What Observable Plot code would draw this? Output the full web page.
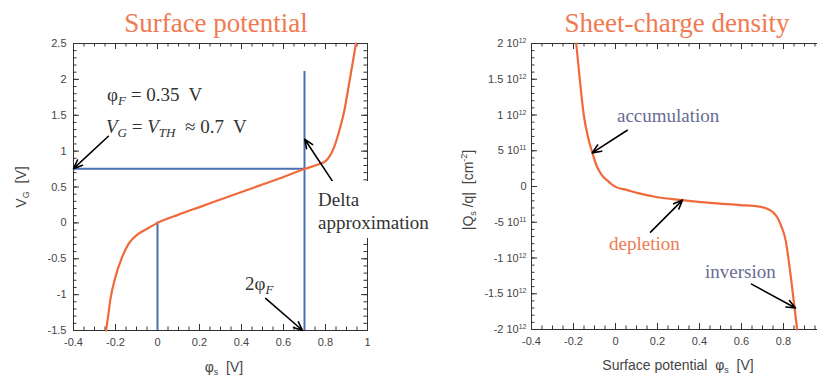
<!DOCTYPE html>
<html><head><meta charset="utf-8">
<script src="https://cdn.jsdelivr.net/npm/d3@7"></script>
<script src="https://cdn.jsdelivr.net/npm/@observablehq/plot@0.6"></script>
<style>
html,body{margin:0;padding:0;background:#fff;}
body{width:817px;height:379px;overflow:hidden;position:relative;font-family:"Liberation Sans",Arial,sans-serif;}
.abs{position:absolute;top:0;}
#overlay{position:absolute;left:0;top:0;z-index:5;pointer-events:none;}
#overlay text{white-space:pre;}
.serif{font-family:"Liberation Serif","Times New Roman",serif;}
</style></head><body>
<div id="left" class="abs" style="left:0;width:440px;height:379px"></div>
<div id="right" class="abs" style="left:440px;width:400px;height:379px"></div>
<svg id="overlay" width="817" height="379" xmlns="http://www.w3.org/2000/svg">
  <text class="serif" x="216" y="32" text-anchor="middle" font-size="27" fill="#f07a52">Surface potential</text>
  <text class="serif" x="677" y="32" text-anchor="middle" font-size="27" fill="#f07a52">Sheet-charge density</text>
  <text class="serif" x="107" y="101" font-size="19" fill="#333">φ<tspan font-style="italic" font-size="13" dy="4">F</tspan><tspan dy="-4"> = 0.35  V</tspan></text>
  <text class="serif" x="106" y="133" font-size="19" fill="#333"><tspan font-style="italic">V</tspan><tspan font-style="italic" font-size="13" dy="4">G</tspan><tspan dy="-4"> = </tspan><tspan font-style="italic">V</tspan><tspan font-style="italic" font-size="13" dy="4">TH</tspan><tspan dy="-4">  ≈ 0.7  V</tspan></text>
  <rect x="311" y="181" width="125" height="57" fill="#fff"/>
  <text class="serif" x="318" y="206" font-size="19" fill="#333">Delta</text>
  <text class="serif" x="318" y="229" font-size="19" fill="#333">approximation</text>
  <text class="serif" x="245" y="290" font-size="19" fill="#333">2φ<tspan font-style="italic" font-size="13" dy="4">F</tspan></text>
  <text class="serif" x="617" y="122" font-size="19" fill="#676b92">accumulation</text>
  <text class="serif" x="609" y="250" font-size="19" fill="#f07a52">depletion</text>
  <text class="serif" x="705" y="278" font-size="19" fill="#676b92">inversion</text>
  <text transform="translate(26,187) rotate(-90)" text-anchor="middle" font-size="14" fill="#444">V<tspan font-size="9" dy="3">G</tspan><tspan dy="-3">  [V]</tspan></text>
  <text x="224" y="372" text-anchor="middle" font-size="14" fill="#444">φ<tspan font-size="9" dy="3">s</tspan><tspan dy="-3">  [V]</tspan></text>
  <text transform="translate(473,190) rotate(-90)" text-anchor="middle" font-size="14" fill="#444">|Q<tspan font-size="9" dy="3">s</tspan><tspan dy="-3"> /q|  [cm</tspan><tspan font-size="9" dy="-6">-2</tspan><tspan dy="6">]</tspan></text>
  <text x="678" y="370" text-anchor="middle" font-size="14" fill="#444">Surface potential  φ<tspan font-size="9" dy="3">s</tspan><tspan dy="-3">  [V]</tspan></text>
</svg>
<script>
// ---- Left panel data: gate voltage vs surface potential ----
const phiS = [-0.245, -0.235, -0.225, -0.201, -0.169, -0.137, -0.09, -0.045, 0, 0.1, 0.2, 0.3, 0.4, 0.5, 0.6, 0.7, 0.76, 0.8, 0.84, 0.87, 0.89, 0.91, 0.93, 0.945];
const vG   = [-1.5, -1.3, -1.08, -0.76, -0.48, -0.29, -0.15, -0.075, 0, 0.115, 0.22, 0.325, 0.43, 0.535, 0.64, 0.75, 0.81, 0.86, 1.05, 1.33, 1.57, 1.9, 2.24, 2.5];
// guide lines (blue)
const guideX  = [0, 0.7];
const guideY1 = [-1.5, -1.5];
const guideY2 = [0.01, 2.11];
const guideHY = [0.755];
const guideHX1 = [-0.4];
const guideHX2 = [0.7];
// left arrows
const lArrX1 = [-0.234, 0.84, 0.515];
const lArrY1 = [1.207, 0.551, -1.053];
const lArrX2 = [-0.4, 0.701, 0.691];
const lArrY2 = [0.755, 1.165, -1.5];

// ---- Right panel data: sheet charge vs surface potential ----
const phiQ = [-0.187, -0.17, -0.151, -0.13, -0.111, -0.09, -0.08, -0.06, -0.04, -0.02, 0, 0.056, 0.103, 0.2, 0.317, 0.45, 0.595, 0.68, 0.722, 0.75, 0.77, 0.79, 0.81, 0.833, 0.852, 0.865];
const qs   = [2.0e12, 1.5e12, 1.0e12, 0.68e12, 0.48e12, 0.29e12, 0.23e12, 0.14e12, 0.088e12, 0.035e12, -0.005e12, -0.05e12, -0.09e12, -0.15e12, -0.19e12, -0.23e12, -0.26e12, -0.28e12, -0.31e12, -0.36e12, -0.43e12, -0.56e12, -0.75e12, -1.22e12, -1.68e12, -2.0e12];
const rArrX1 = [0.056, 0.167, 0.648];
const rArrY1 = [0.787e12, -0.639e12, -1.366e12];
const rArrX2 = [-0.111, 0.319, 0.857];
const rArrY2 = [0.47e12, -0.19e12, -1.70e12];

// ---- ticks ----
const xMajor = [-0.4, -0.2, 0, 0.2, 0.4, 0.6, 0.8, 1.0];
const rxLabelTicks = [-0.4, -0.2, 0, 0.2, 0.4, 0.6, 0.8];
const xMinor = d3.range(-0.4, 1.0001, 0.05).map(v => +v.toFixed(3));
const lyMajor = [-1.5, -1, -0.5, 0, 0.5, 1, 1.5, 2, 2.5];
const lyMinor = d3.range(-1.5, 2.5001, 0.1).map(v => +v.toFixed(3));
const ryMajor = [-2e12, -1.5e12, -1e12, -5e11, 0, 5e11, 1e12, 1.5e12, 2e12];
const ryMinor = d3.range(-20, 20.001, 1).map(v => v * 1e11);
const ryLabels = ["-2 10^12", "-1.5 10^12", "-1 10^12", "-5 10^11", "0", "5 10^11", "1 10^12", "1.5 10^12", "2 10^12"];

const ORANGE = "#f0693a", BLUE = "#4a6fb3", INK = "#333";

function frameTicks(xMaj, xMin, yMaj, yMin, fw, fh) {
  const M = 6, m = 3.5, o = {stroke: INK, strokeWidth: 1};
  return [
    Plot.tickX(xMaj, {...o, x: d => d, insetTop: fh - M}),
    Plot.tickX(xMaj, {...o, x: d => d, insetBottom: fh - M}),
    Plot.tickX(xMin, {...o, x: d => d, insetTop: fh - m}),
    Plot.tickX(xMin, {...o, x: d => d, insetBottom: fh - m}),
    Plot.tickY(yMaj, {...o, y: d => d, insetRight: fw - M}),
    Plot.tickY(yMaj, {...o, y: d => d, insetLeft: fw - M}),
    Plot.tickY(yMin, {...o, y: d => d, insetRight: fw - m}),
    Plot.tickY(yMin, {...o, y: d => d, insetLeft: fw - m})
  ];
}
const fmt = d => String(+(+d).toFixed(2));
const baseStyle = {fontSize: "11px", fontFamily: "Liberation Sans, Arial, sans-serif", color: "#444", background: "transparent", maxWidth: "none", overflow: "visible"};

// ---- Left plot ----
const L = {w: 440, h: 379, ml: 73, mr: 73, mt: 43, mb: 49};
const leftCurve = phiS.map((p, i) => ({p, v: vG[i]}));
const gv = guideX.map((x, i) => ({x, y1: guideY1[i], y2: guideY2[i]}));
const gh = guideHY.map((y, i) => ({y, x1: guideHX1[i], x2: guideHX2[i]}));
const la = lArrX1.map((x1, i) => ({x1, y1: lArrY1[i], x2: lArrX2[i], y2: lArrY2[i]}));
const left = Plot.plot({
  width: L.w, height: L.h,
  marginLeft: L.ml, marginRight: L.mr, marginTop: L.mt, marginBottom: L.mb,
  style: baseStyle,
  x: {domain: [-0.4, 1]},
  y: {domain: [-1.5, 2.5]},
  marks: [
    Plot.frame({stroke: INK, strokeWidth: 1}),
    ...frameTicks(xMajor, xMinor, lyMajor, lyMinor, L.w - L.ml - L.mr, L.h - L.mt - L.mb),
    Plot.axisX({ticks: xMajor, tickSize: 0, tickPadding: 8, tickFormat: fmt, label: null}),
    Plot.axisY({ticks: lyMajor, tickSize: 0, tickPadding: 7, tickFormat: fmt, label: null}),
    Plot.ruleX(gv, {x: "x", y1: "y1", y2: "y2", stroke: BLUE, strokeWidth: 2}),
    Plot.ruleY(gh, {y: "y", x1: "x1", x2: "x2", stroke: BLUE, strokeWidth: 2}),
    Plot.line(leftCurve, {x: "p", y: "v", stroke: ORANGE, strokeWidth: 2.2, curve: "monotone-x"}),
    Plot.arrow(la, {x1: "x1", y1: "y1", x2: "x2", y2: "y2", stroke: "black", strokeWidth: 1.6, headLength: 9, headAngle: 45})
  ]
});
document.getElementById("left").appendChild(left);

// ---- Right plot ----
const R = {w: 400, h: 379, ml: 91, mr: 15, mt: 43, mb: 50};
const rightCurve = phiQ.map((p, i) => ({p, q: qs[i]}));
const ra = rArrX1.map((x1, i) => ({x1, y1: rArrY1[i], x2: rArrX2[i], y2: rArrY2[i]}));
const right = Plot.plot({
  width: R.w, height: R.h,
  marginLeft: R.ml, marginRight: R.mr, marginTop: R.mt, marginBottom: R.mb,
  style: baseStyle,
  x: {domain: [-0.4, 1]},
  y: {domain: [-2e12, 2e12]},
  marks: [
    Plot.frame({stroke: INK, strokeWidth: 1}),
    ...frameTicks(xMajor, xMinor, ryMajor, ryMinor, R.w - R.ml - R.mr, R.h - R.mt - R.mb),
    Plot.axisX({ticks: rxLabelTicks, tickSize: 0, tickPadding: 8, tickFormat: fmt, label: null}),
    Plot.axisY({ticks: ryMajor, tickSize: 0, tickPadding: 5, tickFormat: d => ryLabels[ryMajor.indexOf(d)], label: null}),
    Plot.line(rightCurve, {x: "p", y: "q", stroke: ORANGE, strokeWidth: 2.2, curve: "monotone-x"}),
    Plot.arrow(ra, {x1: "x1", y1: "y1", x2: "x2", y2: "y2", stroke: "black", strokeWidth: 1.6, headLength: 9, headAngle: 45})
  ]
});
document.getElementById("right").appendChild(right);
// superscript exponents in tick labels
d3.select(right).selectAll('g[aria-label="y-axis tick label"] text').each(function () {
  const t = this.textContent;
  if (!t.includes("^")) return;
  const [m, e] = t.split("^");
  const s = d3.select(this);
  s.text(m);
  s.append("tspan").attr("font-size", 7).attr("dy", -4).text(e);
});
</script>
</body></html>
